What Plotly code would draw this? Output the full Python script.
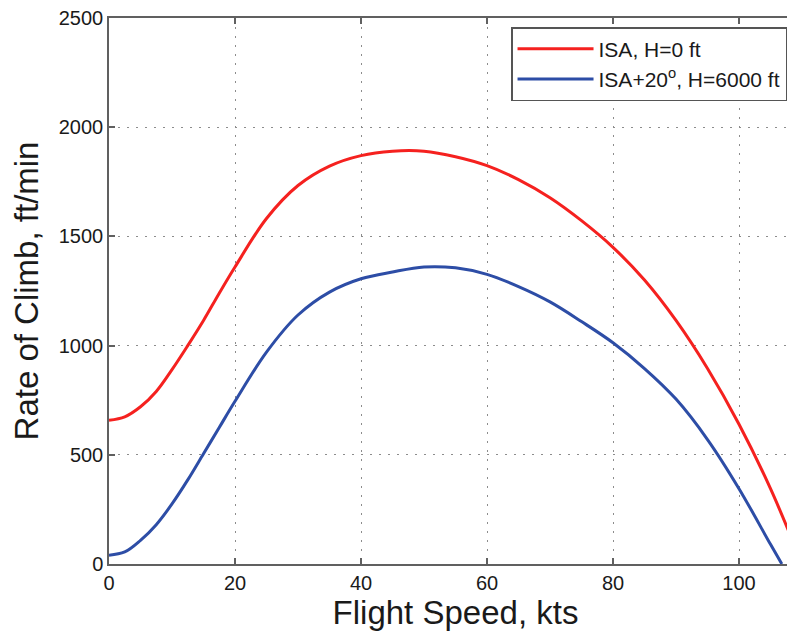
import plotly.graph_objects as go

# Flight speed (kts) and rate of climb (ft/min)
speed_isa = [0, 2.5, 5, 7.5, 10, 12.5, 15, 17.5, 20, 25, 30, 35, 40, 45, 50, 55, 60, 65,
             70, 75, 80, 85, 90, 95, 100, 105, 110]
roc_isa = [658, 674, 720, 790, 890, 1000, 1115, 1240, 1360, 1582, 1733, 1822, 1870, 1890,
           1890, 1865, 1824, 1760, 1677, 1572, 1450, 1300, 1115, 895, 640, 345, 0]

speed_hot = [0, 2.5, 5, 7.5, 10, 12.5, 15, 17.5, 20, 25, 30, 35, 40, 45, 50, 55, 60, 65,
             70, 75, 80, 85, 90, 95, 100, 105, 106.8]
roc_hot = [40, 55, 108, 180, 275, 385, 505, 625, 745, 970, 1140, 1245, 1306, 1337, 1360,
           1356, 1326, 1270, 1200, 1110, 1013, 895, 755, 570, 345, 90, 0]

series_names = ["ISA, H=0 ft", "ISA+20<sup>o</sup>, H=6000 ft"]
x_ticks = [0, 20, 40, 60, 80, 100]
y_ticks = [0, 500, 1000, 1500, 2000, 2500]

RED = "#F5211F"
BLUE = "#2D4DA6"
FONT = "Liberation Sans, Arial, sans-serif"

fig = go.Figure()
fig.add_trace(go.Scatter(x=speed_isa, y=roc_isa, mode="lines", name=series_names[0],
                         line=dict(color=RED, width=3, shape="spline", smoothing=1.0)))
fig.add_trace(go.Scatter(x=speed_hot, y=roc_hot, mode="lines", name=series_names[1],
                         line=dict(color=BLUE, width=3, shape="spline", smoothing=1.0)))

axis_font = dict(family=FONT, size=20, color="#1a1a1a")
title_font = dict(family=FONT, size=33, color="#1a1a1a")

common_axis = dict(
    showgrid=True, gridcolor="#8c8c8c", gridwidth=1, griddash="2px,7px",
    showline=True, linecolor="#606060", linewidth=1.5,
    ticks="inside", ticklen=6, tickcolor="#606060", tickwidth=1.5,
    tickfont=axis_font, zeroline=False, automargin=False,
    ticklabeloverflow="allow",
)

fig.update_layout(
    width=795, height=634,
    # the page body adds an 8 px offset, so margins are reduced to compensate
    margin=dict(l=101, r=1, t=10, b=78),
    paper_bgcolor="white", plot_bgcolor="white",
    showlegend=True,
    legend=dict(x=0.9784, y=0.9835, xanchor="right", yanchor="top",
                bgcolor="white", bordercolor="#555555", borderwidth=1.5,
                font=dict(family=FONT, size=21, color="#1a1a1a"),
                tracegroupgap=0, itemwidth=76),
    xaxis=dict(range=[0, 110], tickvals=x_ticks, ticktext=[str(v) for v in x_ticks],
               mirror="ticks",
               title=dict(text="Flight Speed, kts", font=title_font, standoff=2),
               **common_axis),
    yaxis=dict(range=[0, 2500], tickvals=y_ticks, ticktext=[str(v) for v in y_ticks],
               mirror=False,
               title=dict(text="Rate of Climb, ft/min", font=title_font, standoff=11),
               **common_axis),
)

fig.write_html("out.html")
